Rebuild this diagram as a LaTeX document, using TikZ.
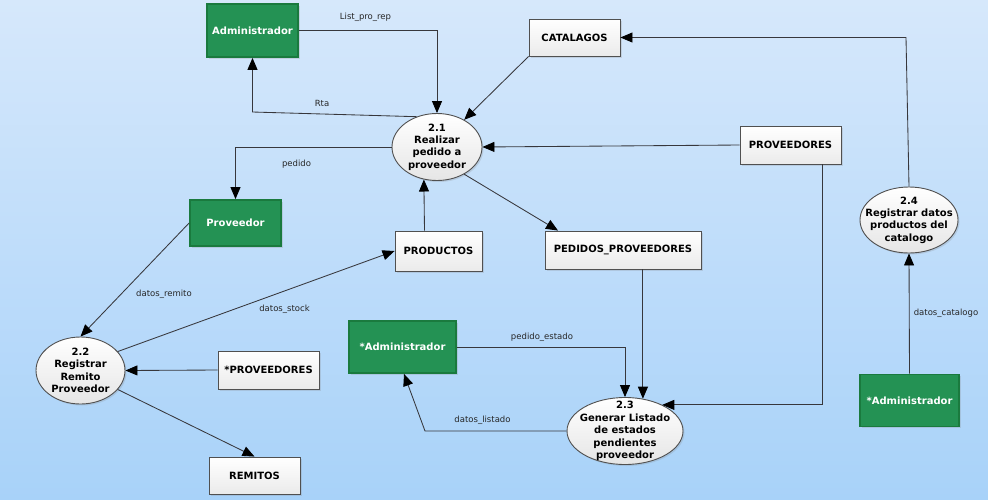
\documentclass[tikz,border=0pt]{standalone}
\usepackage{fontspec}
\setmainfont{DejaVu Sans}
\usetikzlibrary{shapes.geometric,arrows.meta,shadows}

\definecolor{bgtop}{RGB}{214,232,251}
\definecolor{bgbot}{RGB}{168,210,249}
\definecolor{entfill}{RGB}{36,146,84}
\definecolor{entline}{RGB}{26,122,62}
\definecolor{storeline}{RGB}{80,80,80}
\definecolor{flowline}{RGB}{55,55,60}

\tikzset{
  softshadow/.style={drop shadow={shadow xshift=1.5pt, shadow yshift=-1.5pt, opacity=0.22}},
  entity/.style={rectangle, fill=entfill, draw=entline, line width=1.8pt, text=white,
    font=\bfseries\fontsize{10}{12}\selectfont, inner sep=0pt, softshadow},
  store/.style={rectangle, top color=white, bottom color=gray!16, draw=storeline,
    line width=0.9pt, font=\bfseries\fontsize{10}{12}\selectfont, inner sep=0pt, softshadow},
  process/.style={ellipse, top color=white, bottom color=gray!20, draw=storeline,
    line width=0.9pt, font=\bfseries\fontsize{10}{12.4}\selectfont, align=center,
    inner xsep=-14pt, inner ysep=-10pt, softshadow},
  flow/.style={draw=flowline, line width=0.85pt,
    -{Triangle[length=12pt,width=10pt,color=black]}},
  flowlbl/.style={font=\fontsize{8.5}{10}\selectfont, text=black!85, inner sep=1pt},
}

\begin{document}
\begin{tikzpicture}[x=1pt,y=-1pt]
  % backdrop
  \shade[top color=bgtop, bottom color=bgbot] (0,0) rectangle (988,499);
  \useasboundingbox (0,0) rectangle (988,499);

  % external entities, data stores and processes
  \node[entity, minimum width=91pt, minimum height=53pt] (adm1) at (252.5,30.5) {Administrador};
  \node[store, minimum width=91pt, minimum height=37pt] (cat) at (574.5,37.5) {CATALAGOS};
  \node[process, minimum width=90pt, minimum height=67pt] (p21) at (437,147) {2.1\\Realizar\\pedido a\\proveedor};
  \node[store, minimum width=101pt, minimum height=38pt] (prov) at (790.5,145) {PROVEEDORES};
  \node[entity, minimum width=91pt, minimum height=46pt] (provE) at (235.5,223) {Proveedor};
  \node[store, minimum width=87pt, minimum height=40pt] (prod) at (438.5,251) {PRODUCTOS};
  \node[store, minimum width=156pt, minimum height=38pt] (pp) at (623,250) {PEDIDOS\_PROVEEDORES};
  \node[process, minimum width=98pt, minimum height=66pt] (p24) at (909,220) {2.4\\Registrar datos\\productos del\\catalogo};
  \node[process, minimum width=89pt, minimum height=67pt] (p22) at (80.5,370.5) {2.2\\Registrar\\Remito\\Proveedor};
  \node[store, minimum width=101pt, minimum height=38pt] (sprov) at (268.5,370) {*PROVEEDORES};
  \node[entity, minimum width=107pt, minimum height=52pt] (sadm1) at (402.5,347) {*Administrador};
  \node[process, minimum width=116pt, minimum height=67pt] (p23) at (625,431) {2.3\\Generar Listado\\de estados\\pendientes\\proveedor};
  \node[store, minimum width=91pt, minimum height=37pt] (rem) at (254.5,475.5) {REMITOS};
  \node[entity, minimum width=99pt, minimum height=52pt] (sadm2) at (909.5,400.5) {*Administrador};

  % bend points
  \coordinate (rtaBend) at (252.5,112);
  \coordinate (lstBend) at (425,431);
  \coordinate (catBend) at (906,37.5);

  % data flows
  \draw[flow] (adm1.east) -| (p21.north);
  \draw[flow] (p21.124) -- (rtaBend) -- (adm1.south);
  \draw[flow] (cat.south west) -- (p21.45);
  \draw[flow] (prov.west) -- (p21.east);
  \draw[flow] (p21.west) -| (provE.north);
  \draw[flow] ([xshift=-14pt]prod.north) -- (p21.248);
  \draw[flow] (p21.315) -- ([xshift=-65pt]pp.north);
  \draw[flow] (provE.west) -- (p22.north);
  \draw[flow] (p22.27) -- (prod.west);
  \draw[flow] (sprov.west) -- (p22.east);
  \draw[flow] (p22.333) -- (rem.north);
  \draw[flow] (sadm1.east) -| (p23.north);
  \draw[flow] (p23.61 |- pp.south) -- (p23.61);
  \draw[flow] ([xshift=32pt]prov.south) |- (p23.35);
  \draw[flow] (p23.west) -- (lstBend) -- ([xshift=1.5pt]sadm1.south);
  \draw[flow] (p24.north) -- (catBend) -- (cat.east);
  \draw[flow] (sadm2.north) -- (p24.south);

  % flow labels
  \node[flowlbl] (lblListProRep) at (365.5,17) {List\_pro\_rep};
  \node[flowlbl] (lblRta) at (322,103) {Rta};
  \node[flowlbl] (lblPedido) at (296.5,164) {pedido};
  \node[flowlbl] (lblRemito) at (164,294) {datos\_remito};
  \node[flowlbl] (lblStock) at (284.5,309) {datos\_stock};
  \node[flowlbl] (lblEstado) at (542,337) {pedido\_estado};
  \node[flowlbl] (lblListado) at (482.5,420) {datos\_listado};
  \node[flowlbl] (lblCatalogo) at (946,313) {datos\_catalogo};
\end{tikzpicture}
\end{document}
